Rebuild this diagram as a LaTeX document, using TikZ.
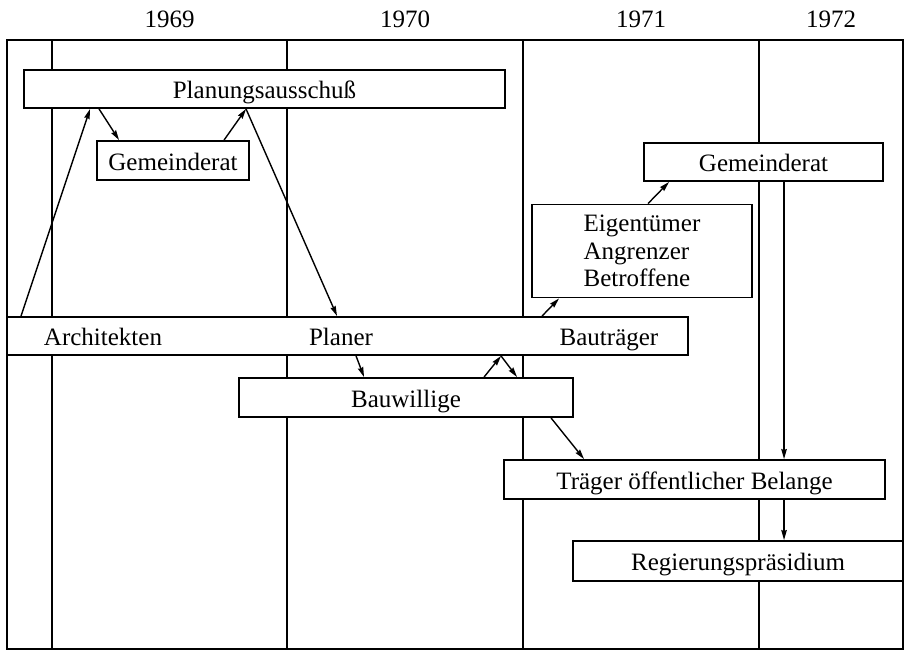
\documentclass[tikz,border=0pt]{standalone}
\usepackage{fontspec}
\setmainfont{Liberation Serif}
\usetikzlibrary{arrows.meta,calc}
\begin{document}
\begin{tikzpicture}[x=1pt,y=-1pt,
  txt/.style={font=\fontsize{25}{27.5}\selectfont},
  boxbase/.style={txt,draw,fill=white,line width=1.9pt,rectangle,inner sep=0pt},
  box/.style={boxbase,text height=19pt,text depth=0pt},
  lbl/.style={txt,inner sep=0pt,anchor=base},
  rule/.style={line width=1.9pt},
  flow/.style={line width=1.4pt,-{Stealth[length=10pt,width=5.5pt,inset=1pt]}}]
\useasboundingbox (0,0) rectangle (906,651);

% year headings
\node[lbl] (y69) at (169.5,27) {1969};
\node[lbl] (y70) at (405,27) {1970};
\node[lbl] (y71) at (641,27) {1971};
\node[lbl] (y72) at (831,27) {1972};

% frame and year separators
\draw[rule] (7,40) rectangle (903,649);
\foreach \x in {52,287,523,759}
  \draw[rule] (\x,40) -- (\x,649);

% participants
\node[box,minimum width=481pt,minimum height=38pt] (pa) at (264.5,89) {Planungsausschuß};
\node[box,minimum width=152pt,minimum height=39pt] (gl) at (173,160.5) {Gemeinderat};
\node[box,minimum width=239pt,minimum height=38pt] (gr) at (763.5,162) {Gemeinderat};
\node[boxbase,minimum width=220pt,minimum height=93pt,align=left] (eig) at (642,251)
  {Eigentümer\\Angrenzer\\Betroffene};
\node[box,minimum width=681pt,minimum height=38pt] (bar) at (347.5,336) {};
\node[lbl] (arch) at (103,345) {Architekten};
\node[lbl] (plan) at (341,345) {Planer};
\node[lbl] (btr) at (609,345) {Bauträger};
\node[box,minimum width=334pt,minimum height=39pt] (bw) at (406,397.5) {Bauwillige};
\node[box,minimum width=381pt,minimum height=39pt] (tr) at (694.5,479.5) {Träger öffentlicher Belange};
\node[box,minimum width=330pt,minimum height=40pt] (rp) at (738,561) {Regierungspräsidium};

% flows between participants
\draw[flow] ([xshift=15pt]bar.north west) -- ([xshift=67pt]pa.south west);
\draw[flow] ([xshift=76pt]pa.south west) -- ([xshift=23pt]gl.north west);
\draw[flow] ([xshift=128pt]gl.north west) -- ([xshift=223pt]pa.south west);
\draw[flow] ([xshift=223pt]pa.south west) -- ([xshift=331pt]bar.north west);
\draw[flow] ([xshift=350pt]bar.south west) -- ([xshift=126pt]bw.north west);
\draw[flow] ([xshift=246pt]bw.north west) -- ([xshift=495pt]bar.south west);
\draw[flow] ([xshift=495pt]bar.south west) -- ([xshift=279pt]bw.north west);
\draw[flow] ([xshift=536pt]bar.north west) -- ([xshift=28pt]eig.south west);
\draw[flow] ([xshift=117pt]eig.north west) -- ([xshift=26pt]gr.south west);
\draw[flow] ([xshift=313pt]bw.south west) -- ([xshift=81pt]tr.north west);
\draw[flow] ([xshift=141pt]gr.south west) -- ([xshift=281pt]tr.north west);
\draw[flow] ([xshift=281pt]tr.south west) -- ([xshift=212pt]rp.north west);
\end{tikzpicture}
\end{document}
